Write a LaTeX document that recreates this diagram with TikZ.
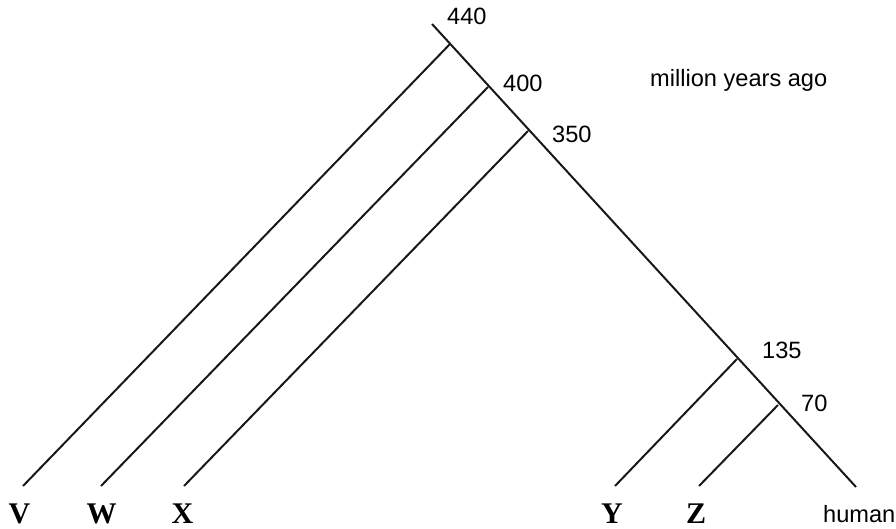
\documentclass[tikz,border=0pt]{standalone}
\usepackage{fontspec}
\setmainfont{Liberation Serif}
\setsansfont{Liberation Sans}
\usetikzlibrary{positioning}

\begin{document}
\begin{tikzpicture}[
    x=1pt,y=-1pt,
    br/.style={line width=2pt,black!90,line cap=butt},
    age/.style={font=\sffamily\fontsize{23.6}{27}\selectfont,inner sep=0pt,anchor=base west},
    sp/.style={font=\rmfamily\bfseries\fontsize{30}{34}\selectfont,inner sep=0pt,anchor=base}
  ]
    \useasboundingbox (0,0) rectangle (896,529);
    % main stem and its branch points
    \coordinate (top) at (432,24); \coordinate (bot) at (856,487);
    \coordinate (j440) at (450,44); \coordinate (j400) at (488,87);
    \coordinate (j350) at (528,131); \coordinate (j135) at (737,359);
    \coordinate (j70) at (778,405);
    % tips
    \coordinate (tV) at (23,486); \coordinate (tW) at (101,486);
    \coordinate (tX) at (184,486); \coordinate (tY) at (615,486);
    \coordinate (tZ) at (699,486);
    \draw[br] (top)--(bot);
    \foreach \j/\t in {j440/tV,j400/tW,j350/tX,j135/tY,j70/tZ} {\draw[br] (\j)--(\t);}
    % ages
    \node[age] (a440) at (447,25) {440};
    \node[age] (a400) at (503,92) {400};
    \node[age] (a350) at (552,143) {350};
    \node[age] (a135) at (762,358) {135};
    \node[age] (a70) at (801,411) {70};
    \node[age] (unit) at (650,87) {million years ago};
    % species
    \foreach \n/\x in {V/19.5,W/101.5,X/182.5,Y/612,Z/696} {\node[sp] (l\n) at (\x,523) {\n};}
    \node[age] (lh) at (823,522) {human};
  \end{tikzpicture}
\end{document}
